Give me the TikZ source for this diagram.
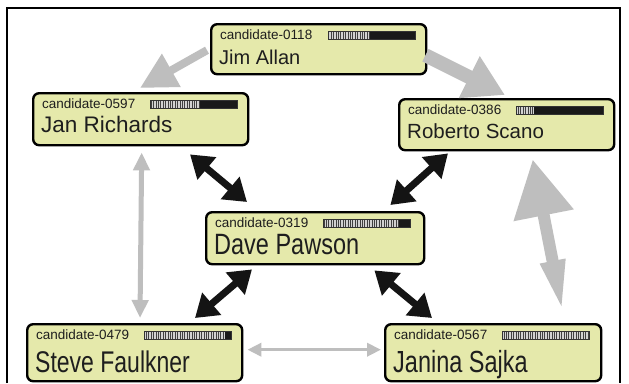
\documentclass[tikz,border=0pt]{standalone}
\usepackage{fontspec}
\setmainfont{Liberation Sans}
\usetikzlibrary{arrows.meta,calc,patterns.meta}
\definecolor{boxfill}{RGB}{229,233,171}
\definecolor{garrow}{RGB}{190,190,190}
\definecolor{txt}{RGB}{30,30,30}
\tikzset{
  candbox/.style={draw=black, line width=2.4pt, rounded corners=6pt, fill=boxfill, inner sep=0pt},
  idtext/.style={inner sep=0pt, text=txt, font=\fontsize{13.5}{14}\selectfont},
  nametext/.style={inner sep=0pt, text=txt},
  grayarrow/.style={draw=garrow, line width=#1},
  blkarrow/.style={draw=black!92, line width=7pt, {Triangle[length=22pt,width=28pt]}-{Triangle[length=22pt,width=28pt]}},
}
\newcommand\candbox[8]{%
  \node[candbox, minimum width=#3pt, minimum height=#4pt, anchor=north west] (#1) at (#2) {};
  \node[idtext, anchor=base west] (#1-id) at ($(#1.north west)+(10,16)$) {candidate-#5};
  \node[nametext, anchor=base west] (#1-name) at ($(#1.north west)+(9,#8)$) {#6};
  \fill[gray!35] ($(#1.north west)+(118,8)$) rectangle ($(#1.north west)+(118+#7,16)$);
  \fill[pattern={Lines[angle=90,distance=2.4pt,line width=0.9pt]}, pattern color=black!75]
    ($(#1.north west)+(118,8)$) rectangle ($(#1.north west)+(118+#7,16)$);
  \fill[black!90] ($(#1.north west)+(118+#7,8)$) rectangle ($(#1.north west)+(205,16)$);
  \draw[line width=0.5pt, black!80] ($(#1.north west)+(118,8)$) rectangle ($(#1.north west)+(205,16)$);
}
\begin{document}
\begin{tikzpicture}[x=1pt,y=-1pt]
\useasboundingbox (0,0) rectangle (629,383);
\fill[white] (0,0) rectangle (629,383);
\draw[line width=1.5pt] (7,383) -- (7,8) -- (620,8) -- (620,383);

\candbox{jim}{210,23}{215}{50}{0118}{\fontsize{20}{20}\selectfont Jim Allan}{42}{41}
\candbox{jan}{32,92}{215}{52}{0597}{\fontsize{22.5}{22}\selectfont Jan Richards}{50}{40}
\candbox{rob}{398,98}{215}{51}{0386}{\fontsize{20.5}{20}\selectfont Roberto Scano}{18}{40}
\candbox{dave}{205,211}{218}{52}{0319}{\scalebox{1}[1.25]{\fontsize{23.5}{23}\selectfont Dave Pawson}}{76}{43}
\candbox{steve}{26,323}{215}{57}{0479}{\scalebox{1}[1.3]{\fontsize{23}{23}\selectfont Steve Faulkner}}{81}{49}
\candbox{janina}{384,323}{216}{57}{0567}{\scalebox{1}[1.3]{\fontsize{23.5}{23}\selectfont Janina Sajka}}{87}{49}

% gray arrows
\draw[grayarrow=8pt, -{Triangle[length=36pt,width=36pt]}]
  ($(jim.west)+(-3,1)$) -- ($(jan.north west)+(108,-4)$);
\draw[grayarrow=14pt, -{Triangle[length=40pt,width=44pt]}]
  ($(jim.east)+(-2,6)$) -- ($(rob.north west)+(107,-3)$);
\draw[grayarrow=5pt, {Triangle[length=18pt,width=16pt]}-{Triangle[length=18pt,width=16pt]}]
  ($(jan.south)+(1,6)$) -- ($(steve.north west)+(114,-5)$);
\draw[grayarrow=12pt, {Triangle[length=57pt,width=58pt]}-{Triangle[length=55pt,width=22pt]}]
  ($(rob.south)+(26,8)$) -- ($(janina.north)+(70,-8)$);
\draw[grayarrow=3.5pt, {Triangle[length=14pt,width=13pt]}-{Triangle[length=14pt,width=13pt]}]
  ($(steve.east)+(4,-3)$) -- ($(janina.west)+(-3,-3)$);

% black arrows
\draw[blkarrow] ($(jan.south west)+(158,8)$) -- ($(dave.north west)+(42,-9)$);
\draw[blkarrow] ($(rob.south west)+(50,2)$) -- ($(dave.north east)+(-35,-6)$);
\draw[blkarrow] ($(dave.south west)+(47,4)$) -- ($(steve.north west)+(169,-5)$);
\draw[blkarrow] ($(dave.south east)+(-51,5)$) -- ($(janina.north west)+(48,-5)$);
\end{tikzpicture}
\end{document}
